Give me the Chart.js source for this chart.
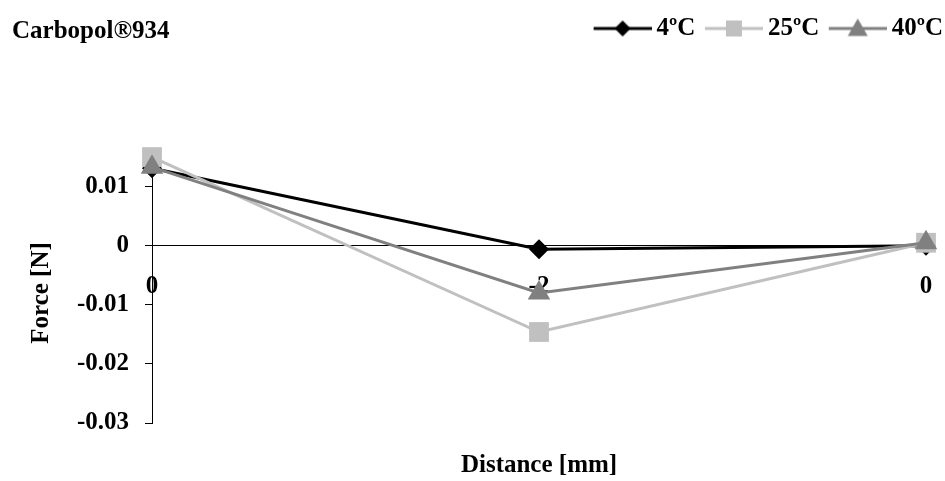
<!DOCTYPE html>
<html>
<head>
<meta charset="utf-8">
<script src="https://cdn.jsdelivr.net/npm/chart.js@4.4.1/dist/chart.umd.min.js"></script>
<style>
  html, body { margin: 0; padding: 0; background: #ffffff; }
  #wrap { width: 945px; height: 481px; position: relative; }
</style>
</head>
<body>
<div id="wrap"><canvas id="chart"></canvas></div>
<script>
// Texture-analysis force readings, Carbopol 934 gel at three temperatures
const CATEGORIES = ['0', '-2', '0'];
const SERIES_NAMES = ['4ºC', '25ºC', '40ºC'];
const FORCE_4C  = [0.0131, -0.0006, 0.0000];
const FORCE_25C = [0.0150, -0.0146, 0.0005];
const FORCE_40C = [0.0133, -0.0080, 0.0005];
const Y_TICKS = [-0.03, -0.02, -0.01, 0, 0.01];
const CHART_TITLE = 'Carbopol®934';
const X_TITLE = 'Distance [mm]';
const Y_TITLE = 'Force [N]';

const FONT_FAMILY = '"Liberation Serif", "Times New Roman", serif';
const FONT_SIZE = 25;
const PLOT_TOP = 163;       // top edge of the plotting area
const PLOT_LEFT = 152;      // y axis position
const PLOT_RIGHT_GAP = 19;  // space to the right of the plotting area
const PLOT_BOTTOM_GAP = 58; // space below the plotting area
const PAD_TOP = 14;

const STYLES = [
  { color: '#000000', marker: 'rectRot',  radius: 10, legendSize: 8 },
  { color: '#c0c0c0', marker: 'rect',     radius: 14, legendSize: 8 },
  { color: '#808080', marker: 'triangle', radius: 13, legendSize: 10 }
];

Chart.defaults.font.family = FONT_FAMILY;
Chart.defaults.font.size = FONT_SIZE;
Chart.defaults.font.weight = 'bold';
Chart.defaults.color = '#000000';

// Legend swatch: a line segment with the series marker in its middle
function drawMarker(ctx, kind, x, y, s, color) {
  ctx.fillStyle = color;
  ctx.beginPath();
  if (kind === 'rectRot') {
    ctx.moveTo(x, y - s); ctx.lineTo(x + s, y); ctx.lineTo(x, y + s); ctx.lineTo(x - s, y);
  } else if (kind === 'rect') {
    ctx.rect(x - s, y - s, 2 * s, 2 * s);
  } else {
    ctx.moveTo(x, y - s); ctx.lineTo(x + s, y + s * 0.75); ctx.lineTo(x - s, y + s * 0.75);
  }
  ctx.closePath();
  ctx.fill();
}

function makeSwatch(style) {
  const c = document.createElement('canvas');
  c.width = 73; c.height = 26;
  const g = c.getContext('2d');
  g.strokeStyle = style.color;
  g.lineWidth = 3;
  g.beginPath();
  g.moveTo(15, 13); g.lineTo(73, 13);
  g.stroke();
  drawMarker(g, style.marker, 44, 13, style.legendSize, style.color);
  return c;
}

const titlePlugin = {
  id: 'cornerTitle',
  afterDraw(chart) {
    const ctx = chart.ctx;
    ctx.save();
    ctx.font = 'bold ' + FONT_SIZE + 'px ' + FONT_FAMILY;
    ctx.fillStyle = '#000000';
    ctx.textAlign = 'left';
    ctx.textBaseline = 'alphabetic';
    ctx.fillText(CHART_TITLE, 12, 38);
    ctx.restore();
  }
};

const seriesValues = [FORCE_4C, FORCE_25C, FORCE_40C];
const datasets = seriesValues.map((vals, i) => ({
  label: SERIES_NAMES[i],
  data: vals,
  borderColor: STYLES[i].color,
  backgroundColor: STYLES[i].color,
  borderWidth: 3,
  pointStyle: STYLES[i].marker,
  pointRadius: STYLES[i].radius,
  pointHoverRadius: STYLES[i].radius,
  pointBorderWidth: 0,
  pointBackgroundColor: STYLES[i].color,
  tension: 0,
  clip: false,
  order: 2 - i
}));

new Chart(document.getElementById('chart'), {
  type: 'line',
  data: { labels: CATEGORIES, datasets },
  plugins: [titlePlugin],
  options: {
    responsive: true,
    maintainAspectRatio: false,
    animation: false,
    layout: { autoPadding: false, padding: { top: PAD_TOP, left: 0, right: 0, bottom: 0 } },
    plugins: {
      tooltip: { enabled: false },
      title: { display: false },
      legend: {
        display: true,
        position: 'top',
        align: 'end',
        labels: {
          usePointStyle: true,
          pointStyleWidth: 58,
          padding: 2,
          color: '#000000',
          font: { family: FONT_FAMILY, size: FONT_SIZE, weight: 'bold' },
          generateLabels(chart) {
            return chart.data.datasets.map((ds, i) => ({
              text: ds.label,
              pointStyle: makeSwatch(STYLES[i]),
              fillStyle: STYLES[i].color,
              strokeStyle: STYLES[i].color,
              lineWidth: 0,
              hidden: false,
              fontColor: '#000000',
              datasetIndex: i
            }));
          }
        }
      }
    },
    scales: {
      x: {
        type: 'category',
        position: { y: 0 },
        offset: false,
        z: 1,
        grid: { display: false, drawTicks: false },
        border: { display: true, color: '#000000', width: 1 },
        ticks: { padding: 26, maxRotation: 0, autoSkip: false, color: '#000000' },
        afterFit(s) { s.paddingLeft = 0; s.paddingRight = 0; }
      },
      x2: {
        type: 'category',
        position: 'bottom',
        offset: false,
        grid: { display: false, drawTicks: false },
        border: { display: false },
        ticks: { display: false },
        title: { display: true, text: X_TITLE, color: '#000000', padding: { top: 0, bottom: 0 } },
        afterFit(s) { s.height = PLOT_BOTTOM_GAP; }
      },
      xTop: {
        type: 'category',
        position: 'top',
        grid: { display: false, drawTicks: false },
        border: { display: false },
        ticks: { display: false },
        afterFit(s) {
          const lh = s.chart.legend ? s.chart.legend.height : 0;
          s.height = Math.max(0, PLOT_TOP - PAD_TOP - lh);
        }
      },
      y: {
        type: 'linear',
        position: 'left',
        min: -0.03,
        max: 0.014,
        grid: { display: true, drawOnChartArea: false, drawTicks: true, tickLength: 7, color: '#000000' },
        border: { display: true, color: '#000000', width: 1 },
        afterBuildTicks(s) { s.ticks = Y_TICKS.map(v => ({ value: v })); },
        ticks: {
          padding: 16,
          color: '#000000',
          callback: v => String(Number(Number(v).toFixed(2)))
        },
        title: { display: true, text: Y_TITLE, color: '#000000', padding: { top: 27, bottom: 0 } },
        afterFit(s) { s.width = PLOT_LEFT; }
      },
      yRight: {
        type: 'linear',
        position: 'right',
        grid: { display: false, drawTicks: false },
        border: { display: false },
        ticks: { display: false },
        afterFit(s) { s.width = PLOT_RIGHT_GAP; }
      }
    }
  }
});
</script>
</body>
</html>
